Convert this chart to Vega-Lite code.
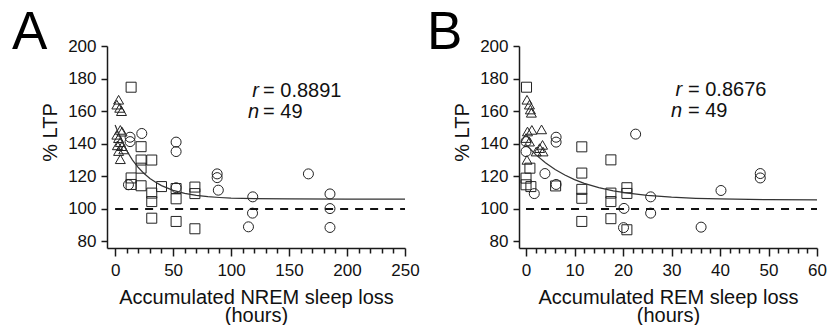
{
  "$schema": "https://vega.github.io/schema/vega-lite/v6.json",
  "background": "white",
  "padding": {"left": 12, "top": 7, "right": 0, "bottom": 0},
  "spacing": 7,
  "config": {
    "font": "Liberation Sans",
    "view": {"stroke": null},
    "axis": {"grid": false, "domainColor": "#1a1a1a", "tickColor": "#1a1a1a", "domainWidth": 1.5, "tickWidth": 1.5, "labelFontSize": 17, "titleFontSize": 20, "titleFontWeight": "normal", "labelColor": "#111", "titleColor": "#111", "labelFont": "Liberation Sans", "titleFont": "Liberation Sans", "labelOverlap": false, "labelFlush": false},
    "axisY": {"tickSize": 6, "labelPadding": 5, "titlePadding": 7},
    "axisX": {"labelPadding": 6, "titlePadding": 9, "titleLineHeight": 18},
    "title": {"fontSize": 53, "fontWeight": "normal", "font": "Liberation Sans", "color": "#000", "anchor": "start", "frame": "group", "baseline": "alphabetic", "offset": -23}
  },
  "datasets": {
    "ptsA": [
      {"x": 3, "y": 167, "g": "t"}, {"x": 1.5, "y": 164, "g": "t"}, {"x": 4, "y": 162, "g": "t"}, {"x": 5.5, "y": 160, "g": "t"},
      {"x": 4.5, "y": 148.5, "g": "t"}, {"x": 6, "y": 147.4, "g": "t"}, {"x": 1.5, "y": 145.5, "g": "t"}, {"x": 3, "y": 143.4, "g": "t"},
      {"x": 4.5, "y": 141, "g": "t"}, {"x": 6, "y": 138.5, "g": "t"}, {"x": 7.5, "y": 136.5, "g": "t"}, {"x": 3, "y": 135.5, "g": "t"},
      {"x": 4.5, "y": 130.5, "g": "t"}, {"x": 2, "y": 139, "g": "t"},
      {"x": 13.8, "y": 174.7, "g": "s"}, {"x": 22.4, "y": 138.2, "g": "s"}, {"x": 22.4, "y": 130, "g": "s"}, {"x": 31.6, "y": 130, "g": "s"},
      {"x": 22.4, "y": 125, "g": "s"}, {"x": 13.8, "y": 119, "g": "s"}, {"x": 13.8, "y": 115, "g": "s"}, {"x": 22.4, "y": 114.2, "g": "s"},
      {"x": 31.6, "y": 109.7, "g": "s"}, {"x": 31.6, "y": 104.5, "g": "s"}, {"x": 31.6, "y": 94.3, "g": "s"}, {"x": 40, "y": 113.7, "g": "s"},
      {"x": 52.6, "y": 112.5, "g": "s"}, {"x": 52.6, "y": 106.2, "g": "s"}, {"x": 52.6, "y": 92.3, "g": "s"}, {"x": 68.8, "y": 113.4, "g": "s"},
      {"x": 68.8, "y": 109.4, "g": "s"}, {"x": 68.8, "y": 87.8, "g": "s"},
      {"x": 12.9, "y": 144, "g": "c"}, {"x": 12.9, "y": 141.3, "g": "c"}, {"x": 23, "y": 146.3, "g": "c"}, {"x": 52.6, "y": 141, "g": "c"},
      {"x": 52.6, "y": 135.2, "g": "c"}, {"x": 11.5, "y": 114.8, "g": "c"}, {"x": 52.6, "y": 113, "g": "c"}, {"x": 88, "y": 121.5, "g": "c"},
      {"x": 88, "y": 119.2, "g": "c"}, {"x": 89, "y": 111.5, "g": "c"}, {"x": 166.7, "y": 121.5, "g": "c"}, {"x": 118.7, "y": 107.4, "g": "c"},
      {"x": 118.5, "y": 97.4, "g": "c"}, {"x": 115, "y": 89, "g": "c"}, {"x": 185.3, "y": 109.2, "g": "c"}, {"x": 185.3, "y": 100.2, "g": "c"},
      {"x": 185.3, "y": 88.6, "g": "c"}
    ],
    "fitA": [
      {"x": 0, "y": 151.5}, {"x": 5, "y": 142.8}, {"x": 10, "y": 135.7}, {"x": 15, "y": 130.0}, {"x": 20, "y": 125.4},
      {"x": 25, "y": 121.7}, {"x": 30, "y": 118.7}, {"x": 35, "y": 116.3}, {"x": 40, "y": 114.3}, {"x": 50, "y": 111.4},
      {"x": 60, "y": 109.5}, {"x": 70, "y": 108.3}, {"x": 80, "y": 107.5}, {"x": 90, "y": 107.0}, {"x": 100, "y": 106.6},
      {"x": 120, "y": 106.3}, {"x": 150, "y": 106.1}, {"x": 200, "y": 106.0}, {"x": 250, "y": 106.0}
    ],
    "refA": [{"x": 0, "x2": 250, "y": 100}],
    "letA": [{"x": 124.1, "y": 168.9, "t": "r"}, {"x": 124.1, "y": 155.7, "t": "n"}],
    "valA": [{"x": 127.6, "y": 168.9, "t": "= 0.8891"}, {"x": 127.6, "y": 155.7, "t": "= 49"}],
    "ptsB": [
      {"x": 0.2, "y": 167, "g": "t"}, {"x": 0.7, "y": 164, "g": "t"}, {"x": 0.9, "y": 161, "g": "t"}, {"x": 1.1, "y": 159, "g": "t"},
      {"x": 0.3, "y": 147.5, "g": "t"}, {"x": 1.2, "y": 148.5, "g": "t"}, {"x": 3.2, "y": 148.8, "g": "t"}, {"x": 0, "y": 143.5, "g": "t"},
      {"x": 0.7, "y": 141.3, "g": "t"}, {"x": 3.4, "y": 139.3, "g": "t"}, {"x": 2.8, "y": 137.3, "g": "t"}, {"x": 2.1, "y": 135.2, "g": "t"},
      {"x": 3.5, "y": 135.2, "g": "t"}, {"x": 0.2, "y": 130.1, "g": "t"},
      {"x": 0.1, "y": 174.7, "g": "s"}, {"x": 0.8, "y": 125, "g": "s"}, {"x": 0, "y": 118.9, "g": "s"}, {"x": 0, "y": 114.8, "g": "s"},
      {"x": 1, "y": 113.7, "g": "s"}, {"x": 6.1, "y": 114.1, "g": "s"}, {"x": 11.5, "y": 138.1, "g": "s"}, {"x": 11.5, "y": 122, "g": "s"},
      {"x": 11.5, "y": 112, "g": "s"}, {"x": 11.5, "y": 106.5, "g": "s"}, {"x": 11.5, "y": 92.3, "g": "s"}, {"x": 17.5, "y": 130.1, "g": "s"},
      {"x": 17.5, "y": 109.7, "g": "s"}, {"x": 17.5, "y": 104.5, "g": "s"}, {"x": 17.5, "y": 94, "g": "s"}, {"x": 20.8, "y": 113, "g": "s"},
      {"x": 20.8, "y": 109.5, "g": "s"}, {"x": 20.8, "y": 87.2, "g": "s"},
      {"x": 22.6, "y": 145.9, "g": "c"}, {"x": 6.2, "y": 144, "g": "c"}, {"x": 6.2, "y": 141, "g": "c"}, {"x": 0, "y": 141.3, "g": "c"},
      {"x": 0, "y": 135.2, "g": "c"}, {"x": 3.9, "y": 121.7, "g": "c"}, {"x": 1.7, "y": 109.4, "g": "c"}, {"x": 25.7, "y": 107.4, "g": "c"},
      {"x": 25.7, "y": 97.4, "g": "c"}, {"x": 20.2, "y": 100.3, "g": "c"}, {"x": 20.1, "y": 88.5, "g": "c"}, {"x": 36.1, "y": 88.8, "g": "c"},
      {"x": 40.2, "y": 111.3, "g": "c"}, {"x": 48.3, "y": 121.7, "g": "c"}, {"x": 48.3, "y": 119, "g": "c"}, {"x": 6.2, "y": 115, "g": "c"}
    ],
    "fitB": [
      {"x": 0, "y": 139.5}, {"x": 2, "y": 133.3}, {"x": 4, "y": 128.3}, {"x": 6, "y": 124.2}, {"x": 8, "y": 120.8},
      {"x": 10, "y": 118.0}, {"x": 12, "y": 115.7}, {"x": 15, "y": 113.1}, {"x": 18, "y": 111.1}, {"x": 21, "y": 109.7},
      {"x": 25, "y": 108.3}, {"x": 30, "y": 107.2}, {"x": 35, "y": 106.5}, {"x": 40, "y": 106.1}, {"x": 50, "y": 105.7},
      {"x": 60, "y": 105.6}
    ],
    "refB": [{"x": 0, "x2": 60, "y": 100}],
    "letB": [{"x": 32.2, "y": 169.3, "t": "r"}, {"x": 32.2, "y": 156.5, "t": "n"}],
    "valB": [{"x": 33.4, "y": 169.3, "t": "= 0.8676"}, {"x": 33.4, "y": 156.5, "t": "= 49"}]
  },
  "hconcat": [
    {
      "width": 298, "height": 202,
      "title": {"text": "A", "dx": -95},
      "layer": [
        {
          "data": {"name": "ptsA"},
          "mark": {"type": "point", "filled": false, "stroke": "#222", "strokeWidth": 1, "size": 100, "opacity": 1},
          "encoding": {
            "x": {"field": "x", "type": "quantitative", "scale": {"domain": [-7, 250], "nice": false, "zero": false},
                  "axis": {"values": [0,10,20,30,40,50,60,70,80,90,100,110,120,130,140,150,160,170,180,190,200,210,220,230,240,250], "labelExpr": "datum.value % 50 === 0 ? datum.label : ''", "labelOverlap": false, "labelFlush": false, "tickSize": {"condition": {"test": "datum.value % 50 === 0", "value": 8}, "value": 5}, "title": ["Accumulated NREM sleep loss", "(hours)"]}},
            "y": {"field": "y", "type": "quantitative", "scale": {"domain": [76, 200], "nice": false, "zero": false},
                  "axis": {"values": [80, 100, 120, 140, 160, 180, 200], "labelOverlap": false, "titleY": 86, "title": "% LTP"}},
            "shape": {"field": "g", "type": "nominal", "scale": {"domain": ["t", "s", "c"], "range": ["triangle-up", "square", "circle"]}, "legend": null}
          }
        },
        {
          "data": {"name": "refA"},
          "mark": {"type": "rule", "strokeDash": [8, 7], "strokeWidth": 2, "color": "#111"},
          "encoding": {
            "x": {"field": "x", "type": "quantitative",
                  "axis": {"values": [0,10,20,30,40,50,60,70,80,90,100,110,120,130,140,150,160,170,180,190,200,210,220,230,240,250], "labelExpr": "datum.value % 50 === 0 ? datum.label : ''", "labelOverlap": false, "labelFlush": false, "tickSize": {"condition": {"test": "datum.value % 50 === 0", "value": 8}, "value": 5}, "title": ["Accumulated NREM sleep loss", "(hours)"]}},
            "x2": {"field": "x2"},
            "y": {"field": "y", "type": "quantitative", "axis": {"values": [80, 100, 120, 140, 160, 180, 200], "labelOverlap": false, "titleY": 86, "title": "% LTP"}}
          }
        },
        {
          "data": {"name": "fitA"},
          "mark": {"type": "line", "color": "#333", "strokeWidth": 1.2},
          "encoding": {
            "x": {"field": "x", "type": "quantitative",
                  "axis": {"values": [0,10,20,30,40,50,60,70,80,90,100,110,120,130,140,150,160,170,180,190,200,210,220,230,240,250], "labelExpr": "datum.value % 50 === 0 ? datum.label : ''", "labelOverlap": false, "labelFlush": false, "tickSize": {"condition": {"test": "datum.value % 50 === 0", "value": 8}, "value": 5}, "title": ["Accumulated NREM sleep loss", "(hours)"]}},
            "y": {"field": "y", "type": "quantitative", "axis": {"values": [80, 100, 120, 140, 160, 180, 200], "labelOverlap": false, "titleY": 86, "title": "% LTP"}}
          }
        },
        {
          "data": {"name": "letA"},
          "mark": {"type": "text", "align": "right", "baseline": "alphabetic", "fontSize": 20, "fontStyle": "italic", "color": "#111"},
          "encoding": {
            "x": {"field": "x", "type": "quantitative",
                  "axis": {"values": [0,10,20,30,40,50,60,70,80,90,100,110,120,130,140,150,160,170,180,190,200,210,220,230,240,250], "labelExpr": "datum.value % 50 === 0 ? datum.label : ''", "labelOverlap": false, "labelFlush": false, "tickSize": {"condition": {"test": "datum.value % 50 === 0", "value": 8}, "value": 5}, "title": ["Accumulated NREM sleep loss", "(hours)"]}},
            "y": {"field": "y", "type": "quantitative", "axis": {"values": [80, 100, 120, 140, 160, 180, 200], "labelOverlap": false, "titleY": 86, "title": "% LTP"}},
            "text": {"field": "t"}
          }
        },
        {
          "data": {"name": "valA"},
          "mark": {"type": "text", "align": "left", "baseline": "alphabetic", "fontSize": 20, "color": "#111"},
          "encoding": {
            "x": {"field": "x", "type": "quantitative",
                  "axis": {"values": [0,10,20,30,40,50,60,70,80,90,100,110,120,130,140,150,160,170,180,190,200,210,220,230,240,250], "labelExpr": "datum.value % 50 === 0 ? datum.label : ''", "labelOverlap": false, "labelFlush": false, "tickSize": {"condition": {"test": "datum.value % 50 === 0", "value": 8}, "value": 5}, "title": ["Accumulated NREM sleep loss", "(hours)"]}},
            "y": {"field": "y", "type": "quantitative", "axis": {"values": [80, 100, 120, 140, 160, 180, 200], "labelOverlap": false, "titleY": 86, "title": "% LTP"}},
            "text": {"field": "t"}
          }
        }
      ]
    },
    {
      "width": 298, "height": 202,
      "title": {"text": "B", "dx": -92},
      "layer": [
        {
          "data": {"name": "ptsB"},
          "mark": {"type": "point", "filled": false, "stroke": "#222", "strokeWidth": 1, "size": 100, "opacity": 1},
          "encoding": {
            "x": {"field": "x", "type": "quantitative", "scale": {"domain": [-1.45, 60], "nice": false, "zero": false},
                  "axis": {"values": [0,2,4,6,8,10,12,14,16,18,20,22,24,26,28,30,32,34,36,38,40,42,44,46,48,50,52,54,56,58,60], "labelExpr": "datum.value % 10 === 0 ? datum.label : ''", "labelOverlap": false, "labelFlush": false, "tickSize": {"condition": {"test": "datum.value % 10 === 0", "value": 8}, "value": 5}, "title": ["Accumulated REM sleep loss", "(hours)"]}},
            "y": {"field": "y", "type": "quantitative", "scale": {"domain": [76, 200], "nice": false, "zero": false},
                  "axis": {"values": [80, 100, 120, 140, 160, 180, 200], "labelOverlap": false, "titleY": 86, "title": "% LTP"}},
            "shape": {"field": "g", "type": "nominal", "scale": {"domain": ["t", "s", "c"], "range": ["triangle-up", "square", "circle"]}, "legend": null}
          }
        },
        {
          "data": {"name": "refB"},
          "mark": {"type": "rule", "strokeDash": [8, 7], "strokeWidth": 2, "color": "#111"},
          "encoding": {
            "x": {"field": "x", "type": "quantitative",
                  "axis": {"values": [0,2,4,6,8,10,12,14,16,18,20,22,24,26,28,30,32,34,36,38,40,42,44,46,48,50,52,54,56,58,60], "labelExpr": "datum.value % 10 === 0 ? datum.label : ''", "labelOverlap": false, "labelFlush": false, "tickSize": {"condition": {"test": "datum.value % 10 === 0", "value": 8}, "value": 5}, "title": ["Accumulated REM sleep loss", "(hours)"]}},
            "x2": {"field": "x2"},
            "y": {"field": "y", "type": "quantitative", "axis": {"values": [80, 100, 120, 140, 160, 180, 200], "labelOverlap": false, "titleY": 86, "title": "% LTP"}}
          }
        },
        {
          "data": {"name": "fitB"},
          "mark": {"type": "line", "color": "#333", "strokeWidth": 1.2},
          "encoding": {
            "x": {"field": "x", "type": "quantitative",
                  "axis": {"values": [0,2,4,6,8,10,12,14,16,18,20,22,24,26,28,30,32,34,36,38,40,42,44,46,48,50,52,54,56,58,60], "labelExpr": "datum.value % 10 === 0 ? datum.label : ''", "labelOverlap": false, "labelFlush": false, "tickSize": {"condition": {"test": "datum.value % 10 === 0", "value": 8}, "value": 5}, "title": ["Accumulated REM sleep loss", "(hours)"]}},
            "y": {"field": "y", "type": "quantitative", "axis": {"values": [80, 100, 120, 140, 160, 180, 200], "labelOverlap": false, "titleY": 86, "title": "% LTP"}}
          }
        },
        {
          "data": {"name": "letB"},
          "mark": {"type": "text", "align": "right", "baseline": "alphabetic", "fontSize": 20, "fontStyle": "italic", "color": "#111"},
          "encoding": {
            "x": {"field": "x", "type": "quantitative",
                  "axis": {"values": [0,2,4,6,8,10,12,14,16,18,20,22,24,26,28,30,32,34,36,38,40,42,44,46,48,50,52,54,56,58,60], "labelExpr": "datum.value % 10 === 0 ? datum.label : ''", "labelOverlap": false, "labelFlush": false, "tickSize": {"condition": {"test": "datum.value % 10 === 0", "value": 8}, "value": 5}, "title": ["Accumulated REM sleep loss", "(hours)"]}},
            "y": {"field": "y", "type": "quantitative", "axis": {"values": [80, 100, 120, 140, 160, 180, 200], "labelOverlap": false, "titleY": 86, "title": "% LTP"}},
            "text": {"field": "t"}
          }
        },
        {
          "data": {"name": "valB"},
          "mark": {"type": "text", "align": "left", "baseline": "alphabetic", "fontSize": 20, "color": "#111"},
          "encoding": {
            "x": {"field": "x", "type": "quantitative",
                  "axis": {"values": [0,2,4,6,8,10,12,14,16,18,20,22,24,26,28,30,32,34,36,38,40,42,44,46,48,50,52,54,56,58,60], "labelExpr": "datum.value % 10 === 0 ? datum.label : ''", "labelOverlap": false, "labelFlush": false, "tickSize": {"condition": {"test": "datum.value % 10 === 0", "value": 8}, "value": 5}, "title": ["Accumulated REM sleep loss", "(hours)"]}},
            "y": {"field": "y", "type": "quantitative", "axis": {"values": [80, 100, 120, 140, 160, 180, 200], "labelOverlap": false, "titleY": 86, "title": "% LTP"}},
            "text": {"field": "t"}
          }
        }
      ]
    }
  ]
}
